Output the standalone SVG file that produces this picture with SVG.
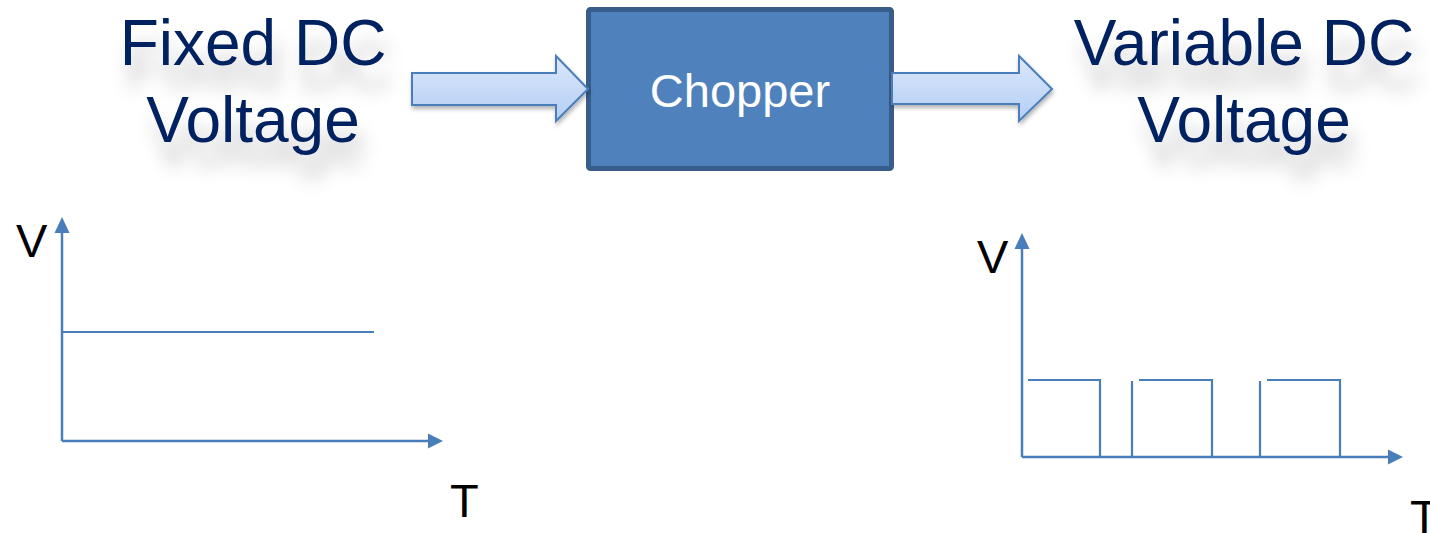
<svg xmlns="http://www.w3.org/2000/svg" width="1430" height="533" viewBox="0 0 1430 533">
  <style>
    .title { font-family: "Liberation Sans", Arial, sans-serif; font-size: 64px; fill: #002060; text-anchor: middle; }
    .axislbl { font-family: "Liberation Sans", Arial, sans-serif; font-size: 47px; fill: #000000; }
    .box-text { font-family: "Liberation Sans", Arial, sans-serif; font-size: 47px; fill: #FFFFFF; text-anchor: middle; }
    .ax { stroke: #4A7EBB; stroke-width: 2.5; fill: none; }
    .wave { stroke: #4A7EBB; stroke-width: 2.2; fill: none; }
    .barrow { fill: url(#arrowGrad); stroke: #4A7EBB; stroke-width: 2; stroke-linejoin: miter; filter: url(#arrowShadow); }
  </style>
  <defs>
    <linearGradient id="arrowGrad" x1="0" y1="0" x2="0" y2="1">
      <stop offset="0" stop-color="#DCE8FA"/>
      <stop offset="1" stop-color="#B3CEF5"/>
    </linearGradient>
    <filter id="textShadow" x="-20%" y="-20%" width="140%" height="180%">
      <feGaussianBlur in="SourceAlpha" stdDeviation="9"/>
      <feOffset dx="6" dy="24" result="b"/>
      <feFlood flood-color="#000000" flood-opacity="0.22"/>
      <feComposite in2="b" operator="in" result="s"/>
      <feMerge><feMergeNode in="s"/><feMergeNode in="SourceGraphic"/></feMerge>
    </filter>
    <filter id="arrowShadow" x="-10%" y="-20%" width="130%" height="160%">
      <feGaussianBlur in="SourceAlpha" stdDeviation="2"/>
      <feOffset dx="1" dy="3" result="b"/>
      <feFlood flood-color="#000000" flood-opacity="0.3"/>
      <feComposite in2="b" operator="in" result="s"/>
      <feMerge><feMergeNode in="s"/><feMergeNode in="SourceGraphic"/></feMerge>
    </filter>
    <marker id="ah" markerWidth="6" markerHeight="6" refX="5" refY="3" orient="auto" markerUnits="strokeWidth">
      <path d="M0,0 L6,3 L0,6 Z" fill="#4A7EBB"/>
    </marker>
  </defs>
  <rect width="1430" height="533" fill="#FFFFFF"/>

  <g id="fixed-dc" filter="url(#textShadow)">
    <text class="title" x="253" y="65">Fixed DC</text>
    <text class="title" x="253" y="142">Voltage</text>
  </g>

  <g id="chopper">
    <rect x="588.5" y="9.5" width="303" height="159" rx="2" fill="#4F81BD" stroke="#385D8A" stroke-width="5"/>
    <text class="box-text" x="740" y="107">Chopper</text>
  </g>

  <g id="variable-dc" filter="url(#textShadow)">
    <text class="title" x="1244" y="65">Variable DC</text>
    <text class="title" x="1244" y="142">Voltage</text>
  </g>

  <g id="connectors">
    <path class="barrow" d="M412,73 L556,73 L556,56 L588,89 L556,121 L556,105 L412,105 Z"/>
    <path class="barrow" d="M892,73 L1019,73 L1019,56 L1052,89 L1019,121 L1019,104 L892,104 Z"/>
  </g>

  <g id="fixed-graph">
    <line class="ax" x1="62" y1="441" x2="62" y2="232"/>
    <path d="M54.5,233 L62,217 L69.5,233 Z" fill="#4A7EBB"/>
    <line class="ax" x1="62" y1="441" x2="429" y2="441"/>
    <path d="M428,433.5 L443,441 L428,448.5 Z" fill="#4A7EBB"/>
    <line class="wave" x1="62" y1="332" x2="374" y2="332"/>
    <text class="axislbl" x="16" y="257">V</text>
    <text class="axislbl" x="450" y="517">T</text>
  </g>

  <g id="variable-graph">
    <line class="ax" x1="1022" y1="457" x2="1022" y2="248"/>
    <path d="M1014.5,249 L1022,233 L1029.5,249 Z" fill="#4A7EBB"/>
    <line class="ax" x1="1022" y1="457" x2="1389" y2="457"/>
    <path d="M1388,449.5 L1403,457 L1388,464.5 Z" fill="#4A7EBB"/>
    <path class="wave" d="M1028,380 L1100,380 L1100,457"/>
    <path class="wave" d="M1132,457 L1132,381"/>
    <path class="wave" d="M1139,380 L1212,380 L1212,457"/>
    <path class="wave" d="M1260,457 L1260,381"/>
    <path class="wave" d="M1267,380 L1340,380 L1340,457"/>
    <text class="axislbl" x="977" y="273">V</text>
    <text class="axislbl" x="1410" y="533">T</text>
  </g>
</svg>
